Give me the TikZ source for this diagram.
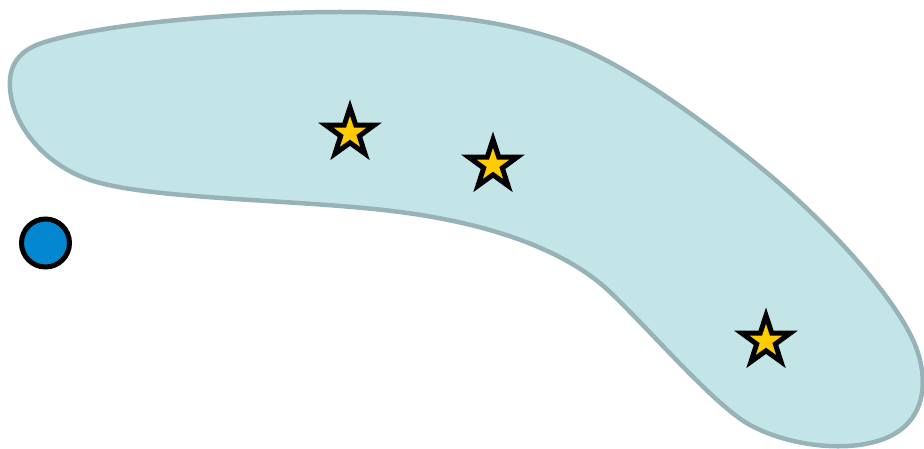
\documentclass[tikz,border=0pt]{standalone}
\usetikzlibrary{shapes.geometric}
\definecolor{blobfill}{HTML}{C4E5E8}
\definecolor{blobline}{HTML}{98B3B7}
\definecolor{dotblue}{HTML}{0287D0}
\definecolor{staryellow}{HTML}{FFCC00}
\tikzset{
  starmark/.style={star, star points=5, star point ratio=2.6, minimum size=51pt, inner sep=0pt,
    draw=black, line width=5pt, fill=staryellow},
  dotmark/.style={circle, minimum size=48pt, inner sep=0pt, draw=black, line width=5pt, fill=dotblue},
  blob/.style={fill=blobfill, draw=blobline, line width=4.5pt}
}
\begin{document}
\begin{tikzpicture}[x=1pt,y=-1pt]
\useasboundingbox (0,0) rectangle (924,449);
\begin{scope}
\clip (0,0) rectangle (924,449);
\draw[blob] (10,88) .. controls (8,60) and (25,48) .. (45,42)
  .. controls (110,22) and (250,12) .. (340,12)
  .. controls (430,12) and (500,20) .. (560,40)
  .. controls (620,60) and (700,118) .. (760,167)
  .. controls (820,216) and (890,290) .. (913,340)
  .. controls (930,377) and (930,430) .. (870,443)
  .. controls (835,451) and (785,444) .. (750,425)
  .. controls (715,406) and (650,330) .. (610,292)
  .. controls (570,254) and (500,225) .. (400,212)
  .. controls (300,199) and (150,200) .. (90,180)
  .. controls (45,165) and (12,125) .. cycle;
\end{scope}
\node[starmark] (s1) at (350,133) {};
\node[starmark] (s2) at (493,165) {};
\node[starmark] (s3) at (766,341) {};
\node[dotmark] (d) at (45.5,243) {};
\end{tikzpicture}
\end{document}
